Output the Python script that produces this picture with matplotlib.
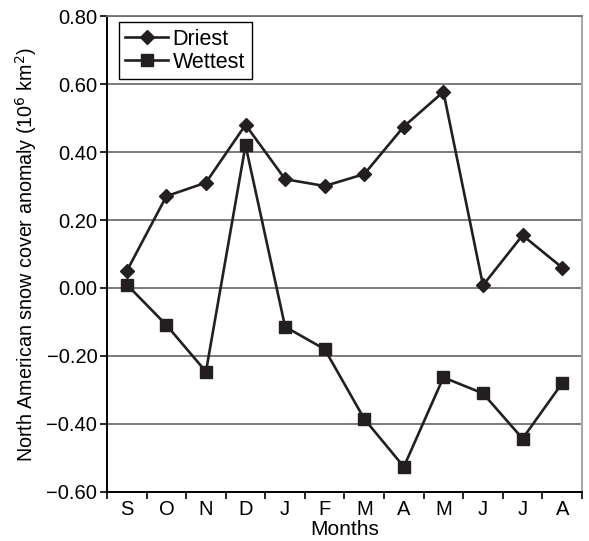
import matplotlib.pyplot as plt
import numpy as np

plt.rcParams['font.family'] = ['Liberation Sans', 'DejaVu Sans']

# Dados
meses = ['S', 'O', 'N', 'D', 'J', 'F', 'M', 'A', 'M', 'J', 'J', 'A']
driest = [0.05, 0.27, 0.31, 0.48, 0.32, 0.30, 0.335, 0.475, 0.577, 0.008, 0.155, 0.06]
wettest = [0.01, -0.109, -0.246, 0.42, -0.114, -0.18, -0.385, -0.526, -0.263, -0.31, -0.443, -0.28]
yticks = [-0.60, -0.40, -0.20, 0.00, 0.20, 0.40, 0.60, 0.80]

cor = '#231f20'

fig = plt.figure(figsize=(5.89, 5.41), dpi=100)
ax = fig.add_axes([0.1817, 0.0906, 0.8063, 0.8798])

x = np.arange(len(meses))
ax.plot(x, driest, color=cor, lw=1.9, marker='D', ms=7.5, label='Driest', zorder=3)
ax.plot(x, wettest, color=cor, lw=1.9, marker='s', ms=8.5, label='Wettest', zorder=3)

ax.set_xlim(-0.5, len(meses) - 0.5)
ax.set_ylim(-0.60, 0.80)
ax.set_yticks(yticks)
ax.set_yticklabels(['{:.2f}'.format(v).replace('-', '\u2212') for v in yticks])
for v in yticks[1:]:
    ax.axhline(v, color='#6f6f6f', lw=1.3, zorder=1)

ax.set_xticks(x)
ax.set_xticklabels(meses)
ax.set_xticks(np.arange(len(meses) + 1) - 0.5, minor=True)
ax.tick_params(axis='x', which='major', length=0, pad=6, labelsize=14.5)
ax.tick_params(axis='x', which='minor', length=5, width=1.2, direction='out')
ax.tick_params(axis='y', length=5, width=1.2, direction='out', labelsize=14.5, pad=2)

ax.spines['left'].set_linewidth(1.4)
ax.spines['bottom'].set_linewidth(1.4)
ax.spines['top'].set_color('#6f6f6f')
ax.spines['top'].set_linewidth(1.3)
ax.spines['right'].set_color('#aaaaaa')
ax.spines['right'].set_linewidth(1.5)

ax.set_xlabel('Months', fontsize=15, labelpad=0.5)
ax.set_ylabel('North American snow cover anomaly (10$^6$ km$^2$)', fontsize=14.2, labelpad=5)

leg = ax.legend(loc='upper left', bbox_to_anchor=(0.025, 0.987), fontsize=15.5,
                fancybox=False, edgecolor='black', framealpha=1,
                handlelength=2.0, borderpad=0.3, labelspacing=0.1,
                handletextpad=0.2, borderaxespad=0)
leg.get_frame().set_linewidth(1.0)

fig.savefig('out.png', dpi=100)
